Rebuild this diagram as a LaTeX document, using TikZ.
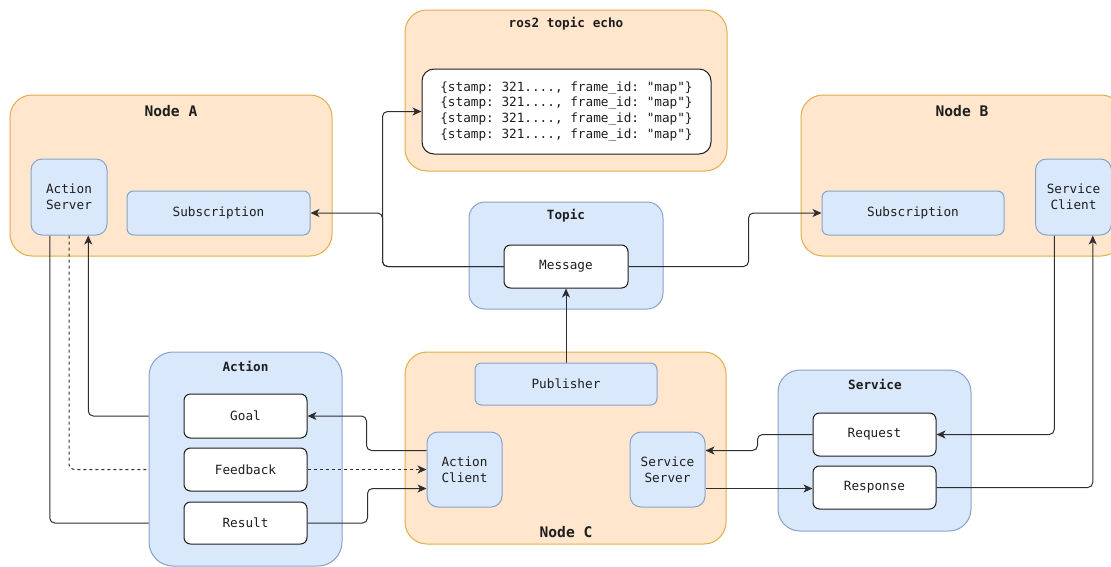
\documentclass[tikz,border=0pt]{standalone}
\usepackage{fontspec}
\newfontfamily\mono{DejaVu Sans Mono}
\usetikzlibrary{calc,arrows.meta,backgrounds}
\pgfdeclarelayer{boxes}
\pgfdeclarelayer{wires}
\pgfsetlayers{boxes,wires,main}
\definecolor{orfill}{HTML}{FFE6CC}
\definecolor{ordraw}{HTML}{E0AE4A}
\definecolor{blfill}{HTML}{DAE8FC}
\definecolor{bldraw}{HTML}{86A2CC}
\definecolor{wire}{HTML}{2E2E2E}
\definecolor{ink}{HTML}{1E1E1E}
\frenchspacing
\tikzset{
  txt/.style={font=\mono\fontsize{12.7}{15.7}\selectfont, text=ink},
  ttl/.style={font=\mono\bfseries\fontsize{12.7}{15}\selectfont, text=ink},
  bigttl/.style={font=\mono\bfseries\fontsize{14.6}{17}\selectfont, text=ink},
  shell/.style={draw=ordraw, fill=orfill, line width=1pt, rounded corners=22pt, inner sep=0pt},
  group/.style={draw=bldraw, fill=blfill, line width=1pt, rounded corners=18pt, inner sep=0pt},
  part/.style={txt, draw=bldraw, fill=blfill, line width=1pt, inner sep=0pt, align=center},
  field/.style={txt, draw=ink, fill=white, line width=1pt, rounded corners=6.5pt, inner sep=0pt, align=center},
  wireline/.style={draw=wire, line width=1pt, rounded corners=5pt},
  arr/.style={wireline, -{Stealth[length=9pt,width=8pt,inset=2.5pt]}},
}
\begin{document}
\frenchspacing
\begin{tikzpicture}[x=1pt,y=-1pt]
\useasboundingbox (0,0) rectangle (1111,566);

% ---- outer containers ----
\begin{pgfonlayer}{boxes}
\node[shell, minimum width=322, minimum height=161] (nodeA) at (171,175.5) {};
\node[shell, minimum width=322, minimum height=161] (echo) at (566,90.5) {};
\node[shell, minimum width=322, minimum height=161] (nodeB) at (962,175.5) {};
\node[shell, minimum width=321, minimum height=192] (nodeC) at (565.5,448) {};
\node[group, rounded corners=16pt, minimum width=194, minimum height=107] (topic) at (566,255.5) {};
\node[group, rounded corners=24pt, minimum width=193, minimum height=214] (action) at (245.5,459) {};
\node[group, rounded corners=22pt, minimum width=193, minimum height=161] (service) at (874.5,450.5) {};
\end{pgfonlayer}

% ---- titles ----
\node[bigttl] (tA) at (171,111) {Node A};
\node[ttl] (tEcho) at (566,24) {ros2 topic echo};
\node[bigttl] (tB) at (962,111) {Node B};
\node[ttl] (tTopic) at (566,216) {Topic};
\node[bigttl] (tC) at (566,532) {Node C};
\node[ttl] (tAction) at (245.5,366) {Action};
\node[ttl] (tService) at (875,384) {Service};

% ---- inner parts ----
\node[part, rounded corners=11pt, minimum width=76, minimum height=76] (aserver) at (69,197) {Action\\Server};
\node[part, rounded corners=6.5pt, minimum width=183, minimum height=44] (subA) at (218.5,213) {Subscription};
\node[field, rounded corners=12pt, minimum width=289, minimum height=85] (echobox) at (566.5,111.5)
  {\{stamp: 321...., frame\_id: "map"\}\\\{stamp: 321...., frame\_id: "map"\}\\\{stamp: 321...., frame\_id: "map"\}\\\{stamp: 321...., frame\_id: "map"\}};
\node[part, rounded corners=6.5pt, minimum width=182, minimum height=44] (subB) at (913,213) {Subscription};
\node[part, rounded corners=11pt, minimum width=76, minimum height=76] (sclient) at (1073.5,197) {Service\\Client};
\node[field, minimum width=124, minimum height=43] (message) at (566,266.5) {Message};
\node[part, rounded corners=6.5pt, minimum width=182, minimum height=42] (publisher) at (566,384) {Publisher};
\node[part, rounded corners=11pt, minimum width=75, minimum height=75] (aclient) at (464.5,469.5) {Action\\Client};
\node[part, rounded corners=11pt, minimum width=75, minimum height=75] (sserver) at (667.5,469.5) {Service\\Server};
\node[field, minimum width=123, minimum height=44] (goal) at (245.5,416) {Goal};
\node[field, minimum width=123, minimum height=43] (feedback) at (245.5,469.5) {Feedback};
\node[field, minimum width=123, minimum height=42] (result) at (245.5,523) {Result};
\node[field, minimum width=123, minimum height=43] (request) at (874.5,434.5) {Request};
\node[field, minimum width=123, minimum height=43] (response) at (874.5,487.5) {Response};

% ---- attachment points on the parts ----
\coordinate (as25) at ($(aserver.south west)!0.25!(aserver.south east)$);
\coordinate (as50) at (aserver.south);
\coordinate (as75) at ($(aserver.south west)!0.75!(aserver.south east)$);
\coordinate (sc25) at ($(sclient.south west)!0.25!(sclient.south east)$);
\coordinate (sc75) at ($(sclient.south west)!0.75!(sclient.south east)$);
\coordinate (ac25) at ($(aclient.north west)!0.25!(aclient.south west)$);
\coordinate (ac75) at ($(aclient.north west)!0.75!(aclient.south west)$);
\coordinate (ss25) at ($(sserver.north east)!0.25!(sserver.south east)$);
\coordinate (ss75) at ($(sserver.north east)!0.75!(sserver.south east)$);

% ---- connectors ----
\begin{pgfonlayer}{wires}
% topic fan-out
\draw[arr] (message.west) -- ++(-121,0) |- (echobox.west);
\draw[arr] (message.west) -- ++(-121,0) |- (subA.east);
\draw[arr] (message.east) -- ++(120,0) |- (subB.west);
\draw[arr] (publisher.north) -- (message.south);
% action
\draw[arr] (ac25) -- ++(-60,0) |- (goal.east);
\draw[arr, dashed, dash pattern=on 3pt off 3pt] (feedback.east) -- (aclient.west);
\draw[arr] (result.east) -- ++(60,0) |- (ac75);
\draw[wireline] (as25) |- (result.west -| action.west);
\draw[wireline, dash pattern=on 3pt off 3pt] (as50) |- (feedback.west -| action.west);
\draw[arr] (goal.west -| action.west) -| (as75);
% service
\draw[arr] (sc25) |- (request.east);
\draw[arr] (request.west) -- ++(-55,0) |- (ss25);
\draw[arr] (ss75) -- (ss75 -| response.west);
\draw[arr] (response.east) -| (sc75);
\end{pgfonlayer}
\end{tikzpicture}
\end{document}
